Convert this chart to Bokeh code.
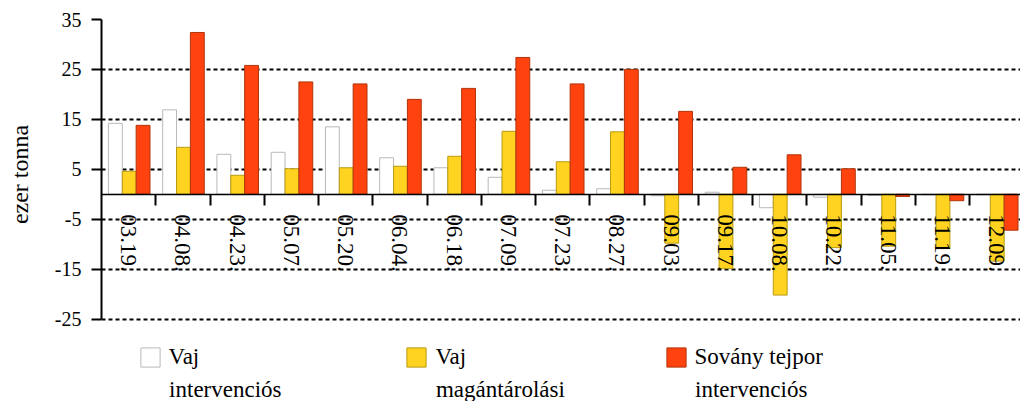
from bokeh.plotting import figure
from bokeh.models import (Range1d, FixedTicker, LinearAxis, Legend, LegendItem,
                          ColumnDataSource, Label)
from bokeh.transform import dodge
from bokeh.embed import file_html
from bokeh.resources import INLINE

# ---- data ----
dates = ["03.19.", "04.08.", "04.23.", "05.07.", "05.20.", "06.04.", "06.18.",
         "07.09.", "07.23.", "08.27.", "09.03.", "09.17.", "10.08.", "10.22.",
         "11.05.", "11.19.", "12.09."]
vaj_intervencios = [14.2, 16.9, 8.0, 8.4, 13.5, 7.3, 5.3, 3.4, 0.8, 1.1,
                    -0.3, 0.4, -2.7, -0.6, -0.25, -0.1, -0.1]
vaj_magantarolasi = [4.6, 9.4, 3.8, 5.1, 5.3, 5.6, 7.6, 12.6, 6.5, 12.5,
                     -9.8, -14.9, -20.2, -10.7, -10.4, -10.9, -13.4]
sovany_tejpor = [13.8, 32.4, 25.8, 22.5, 22.1, 19.0, 21.2, 27.4, 22.1, 25.0,
                 16.6, 5.4, 7.9, 5.1, -0.45, -1.3, -7.2]
legend_line1 = ["Vaj", "Vaj", "Sovány tejpor"]
legend_line2 = ["intervenciós", "magántárolási", "intervenciós"]
y_ticks = [-25, -15, -5, 5, 15, 25, 35]
y_label = "ezer tonna"

FONT = "Liberation Serif"

src = ColumnDataSource(dict(
    x=list(range(len(dates))),
    vi=vaj_intervencios,
    vm=vaj_magantarolasi,
    sv=sovany_tejpor,
))

p = figure(width=1020, height=401, output_backend="svg", toolbar_location=None,
           x_range=Range1d(0, 16.94), y_range=Range1d(-41.52, 35),
           x_axis_type=None, min_border_left=101, min_border_right=0,
           min_border_top=19, min_border_bottom=0)
p.outline_line_color = None
p.background_fill_color = "white"
p.border_fill_color = "white"

# grid
p.ygrid.ticker = FixedTicker(ticks=y_ticks)
p.ygrid.grid_line_color = "black"
p.ygrid.grid_line_width = 2
p.ygrid.grid_line_dash = "4 3"

# y axis
ya = p.yaxis[0]
ya.ticker = FixedTicker(ticks=y_ticks)
ya.bounds = (-25, 35)
ya.axis_line_width = 2
ya.major_tick_line_width = 2
ya.major_tick_out = 10
ya.major_tick_in = 0
ya.minor_tick_line_color = None
ya.major_label_standoff = 10
ya.major_label_overrides = {t: str(t) for t in y_ticks}
ya.major_label_text_font = FONT
ya.major_label_text_font_size = "20px"
ya.major_label_text_color = "black"
# label is centred on the frame; pad its start so it sits beside the -25..35 span
ya.axis_label = "\u00a0" * 12 + y_label
ya.axis_label_text_font = FONT
ya.axis_label_text_font_size = "24px"
ya.axis_label_text_font_style = "normal"
ya.axis_label_text_color = "black"
ya.axis_label_standoff = 19

# bars
w = 0.2555
r1 = p.vbar(x=dodge("x", 0.2555, range=p.x_range), top="vi", bottom=0, width=w,
            source=src, fill_color="white", line_color="#b8b8b8", line_width=1)
r2 = p.vbar(x=dodge("x", 0.511, range=p.x_range), top="vm", bottom=0, width=w,
            source=src, fill_color="#FFD320", line_color="#b89a10", line_width=1)
r3 = p.vbar(x=dodge("x", 0.7665, range=p.x_range), top="sv", bottom=0, width=w,
            source=src, fill_color="#FF420E", line_color="#b0340c", line_width=1)

# x axis at zero: ticks at category boundaries
ax_ticks = LinearAxis(fixed_location=0,
                      ticker=FixedTicker(ticks=list(range(1, len(dates)))),
                      major_label_text_color=None,
                      major_tick_out=11, major_tick_in=0,
                      major_tick_line_width=2, axis_line_width=1.5,
                      axis_line_color="black", minor_tick_line_color=None)
p.add_layout(ax_ticks, "below")

# category labels
ax_labels = LinearAxis(fixed_location=0,
                       ticker=FixedTicker(ticks=[i + 0.5 for i in range(len(dates))]),
                       major_label_overrides={i + 0.5: d for i, d in enumerate(dates)},
                       major_label_orientation="vertical",
                       major_tick_out=0, major_tick_in=0,
                       major_tick_line_color=None, minor_tick_line_color=None,
                       axis_line_color=None, major_label_standoff=20,
                       major_label_text_font=FONT,
                       major_label_text_font_size="23px",
                       major_label_text_color="black")
p.add_layout(ax_labels, "below")

# legends (first line with swatch) + second line as label
cat_px = 919 / 16.94
for r, l1, l2, vx in zip([r1, r2, r3], legend_line1, legend_line2,
                         [36.6, 303.4, 562.5]):
    lg = Legend(items=[LegendItem(label=l1, renderers=[r])],
                location=(vx, 31), orientation="vertical",
                padding=0, margin=0, spacing=0,
                border_line_color=None, background_fill_alpha=0,
                glyph_width=24, glyph_height=24, label_standoff=7,
                label_height=24,
                label_text_font=FONT, label_text_font_size="23px",
                label_text_color="black")
    p.add_layout(lg, "center")
    p.add_layout(Label(x=(vx + 31) / cat_px, y=-39.2, text=l2,
                       text_font=FONT, text_font_size="23px",
                       text_color="black", text_baseline="alphabetic"))

open("out.html", "w").write(file_html(p, INLINE))
